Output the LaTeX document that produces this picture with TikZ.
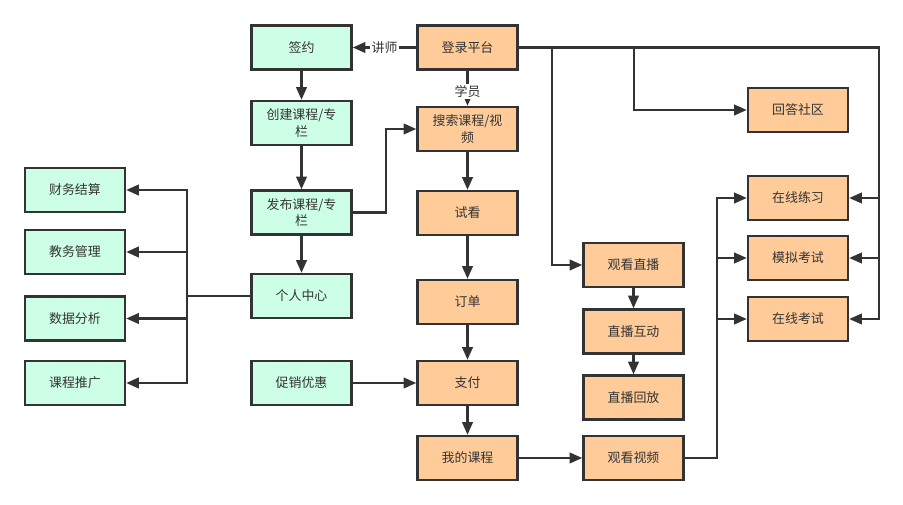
\documentclass[tikz,border=0pt]{standalone}
\usepackage{fontspec}
\setmainfont{Noto Sans CJK SC}
\usetikzlibrary{arrows.meta,positioning}
\definecolor{flowgreen}{RGB}{204,255,230}
\definecolor{floworange}{RGB}{255,204,153}
\definecolor{flowline}{RGB}{51,51,51}

\begin{document}
\begin{tikzpicture}[
    x=0.025cm, y=-0.025cm,
    box/.style={rectangle, draw=flowline, fill=#1, line width=1.7pt, minimum width=2.5cm, minimum height=1.1cm, align=center, text=flowline, inner sep=1pt, font=\fontsize{9.2}{12}\selectfont},
    arrow/.style={-{Triangle[length=9pt,width=7.5pt]}, line width=1.6pt, flowline},
    tag/.style={fill=white, text=flowline, inner sep=1pt, font=\fontsize{9.2}{12}\selectfont}
]
\useasboundingbox (0,0) rectangle (903,505);

% Teacher side (green)
\node[box=flowgreen] (sign) at (301.5,47.5) {签约};
\node[box=flowgreen] (create) at (301.5,123) {创建课程/专\\栏};
\node[box=flowgreen] (publish) at (301.5,212.5) {发布课程/专\\栏};
\node[box=flowgreen] (center) at (301.5,296) {个人中心};
\node[box=flowgreen] (promo) at (301.5,383) {促销优惠};

% Management (green, left)
\node[box=flowgreen] (finance) at (75,190) {财务结算};
\node[box=flowgreen] (academic) at (75,252) {教务管理};
\node[box=flowgreen] (analysis) at (75,318.5) {数据分析};
\node[box=flowgreen] (promote) at (75,383) {课程推广};

% Student side (orange)
\node[box=floworange] (login) at (467.5,47.5) {登录平台};
\node[box=floworange] (search) at (467.5,129) {搜索课程/视\\频};
\node[box=floworange] (trial) at (467.5,213) {试看};
\node[box=floworange] (order) at (467.5,302) {订单};
\node[box=floworange] (pay) at (467.5,383) {支付};
\node[box=floworange] (mycourse) at (467.5,458) {我的课程};

% Live and video
\node[box=floworange] (live) at (633.5,265) {观看直播};
\node[box=floworange] (interact) at (633.5,331.5) {直播互动};
\node[box=floworange] (replay) at (633.5,397.5) {直播回放};
\node[box=floworange] (video) at (633.5,458) {观看视频};

% Community and tests
\node[box=floworange] (community) at (798,110) {回答社区};
\node[box=floworange] (practice) at (798,198) {在线练习};
\node[box=floworange] (mock) at (798,258) {模拟考试};
\node[box=floworange] (exam) at (798,319) {在线考试};

% Connectors
\draw[arrow] (login) -- node[tag] {讲师} (sign);
\draw[arrow] (login) -- node[tag, pos=0.6] {学员} (search);
\draw[arrow] (sign) -- (create);
\draw[arrow] (create) -- (publish);
\draw[arrow] (publish) -- (center);
\draw[arrow] (publish.east) -- ++(33,0) |- (search.west);
\draw[arrow] (search) -- (trial);
\draw[arrow] (trial) -- (order);
\draw[arrow] (order) -- (pay);
\draw[arrow] (pay) -- (mycourse);
\draw[arrow] (promo) -- (pay);
\draw[arrow] (mycourse) -- (video);

\draw[arrow] (center.west) -- ++(-63,0) |- (finance.east);
\draw[arrow] (center.west) -- ++(-63,0) |- (academic.east);
\draw[arrow] (center.west) -- ++(-63,0) |- (analysis.east);
\draw[arrow] (center.west) -- ++(-63,0) |- (promote.east);

\draw[arrow] (login.east) -- ++(33,0) |- (live.west);
\draw[arrow] (login.east) -- ++(115,0) |- (community.west);
\draw[arrow] (login.east) -- ++(360,0) |- (practice.east);
\draw[arrow] (login.east) -- ++(360,0) |- (mock.east);
\draw[arrow] (login.east) -- ++(360,0) |- (exam.east);

\draw[arrow] (live) -- (interact);
\draw[arrow] (interact) -- (replay);

\draw[arrow] (video.east) -- ++(32,0) |- (practice.west);
\draw[arrow] (video.east) -- ++(32,0) |- (mock.west);
\draw[arrow] (video.east) -- ++(32,0) |- (exam.west);

\end{tikzpicture}
\end{document}
